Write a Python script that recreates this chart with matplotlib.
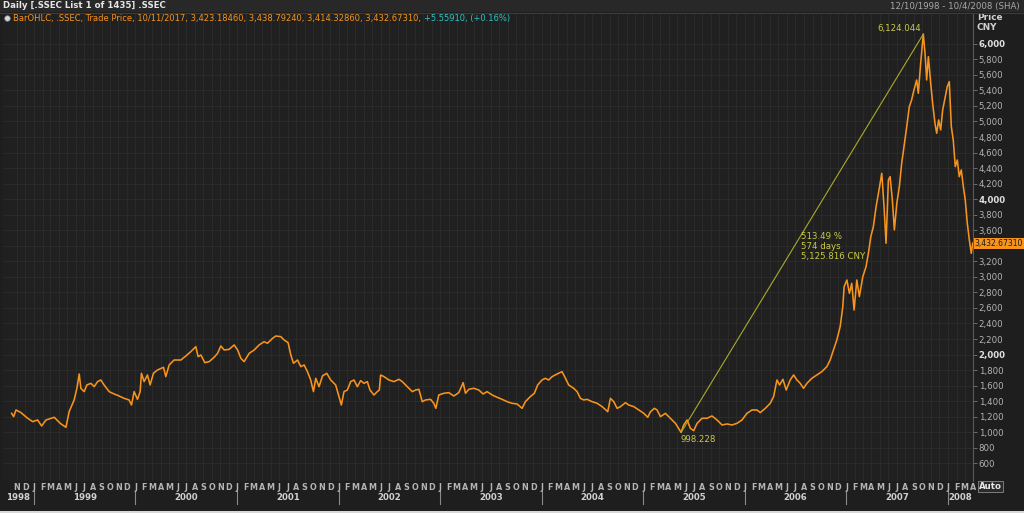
import matplotlib
matplotlib.use("Agg")
import matplotlib.pyplot as plt
from matplotlib.patches import Rectangle
from matplotlib.transforms import blended_transform_factory
import numpy as np
import pandas as pd

# ---------------- data ----------------
dec_years = [
    1998.780, 1998.800, 1998.823, 1998.872, 1998.938, 1998.987, 1999.036, 1999.076, 1999.118, 1999.200,
    1999.259, 1999.315, 1999.347, 1999.396, 1999.423, 1999.446, 1999.462, 1999.495, 1999.521, 1999.561,
    1999.593, 1999.627, 1999.659, 1999.691, 1999.741, 1999.790, 1999.839, 1999.888, 1999.937, 1999.961,
    1999.987, 2000.020, 2000.046, 2000.059, 2000.085, 2000.118, 2000.144, 2000.177, 2000.217, 2000.276,
    2000.298, 2000.331, 2000.380, 2000.446, 2000.495, 2000.544, 2000.593, 2000.616, 2000.643, 2000.682,
    2000.724, 2000.773, 2000.807, 2000.839, 2000.872, 2000.921, 2000.970, 2001.004, 2001.036, 2001.068,
    2001.118, 2001.167, 2001.216, 2001.265, 2001.298, 2001.348, 2001.380, 2001.429, 2001.462, 2001.501,
    2001.528, 2001.554, 2001.594, 2001.626, 2001.659, 2001.692, 2001.724, 2001.751, 2001.774, 2001.806,
    2001.840, 2001.882, 2001.921, 2001.970, 2002.003, 2002.026, 2002.052, 2002.085, 2002.118, 2002.150,
    2002.184, 2002.216, 2002.249, 2002.282, 2002.308, 2002.347, 2002.380, 2002.400, 2002.413, 2002.446,
    2002.495, 2002.544, 2002.593, 2002.626, 2002.676, 2002.725, 2002.757, 2002.790, 2002.823, 2002.856,
    2002.905, 2002.937, 2002.957, 2002.986, 2003.036, 2003.085, 2003.134, 2003.183, 2003.226, 2003.249,
    2003.282, 2003.331, 2003.380, 2003.423, 2003.462, 2003.512, 2003.561, 2003.610, 2003.659, 2003.708,
    2003.757, 2003.807, 2003.839, 2003.888, 2003.928, 2003.960, 2004.003, 2004.036, 2004.068, 2004.102,
    2004.151, 2004.200, 2004.233, 2004.265, 2004.314, 2004.348, 2004.380, 2004.413, 2004.446, 2004.495,
    2004.544, 2004.594, 2004.649, 2004.675, 2004.708, 2004.741, 2004.774, 2004.823, 2004.855, 2004.905,
    2004.954, 2005.003, 2005.042, 2005.069, 2005.108, 2005.134, 2005.167, 2005.216, 2005.265, 2005.315,
    2005.371, 2005.396, 2005.430, 2005.462, 2005.495, 2005.528, 2005.577, 2005.626, 2005.675, 2005.725,
    2005.774, 2005.823, 2005.872, 2005.921, 2005.970, 2006.020, 2006.069, 2006.118, 2006.151, 2006.200,
    2006.249, 2006.282, 2006.315, 2006.341, 2006.374, 2006.406, 2006.446, 2006.479, 2006.512, 2006.544,
    2006.577, 2006.610, 2006.659, 2006.708, 2006.757, 2006.807, 2006.839, 2006.872, 2006.905, 2006.938,
    2006.964, 2006.977, 2007.004, 2007.029, 2007.052, 2007.075, 2007.102, 2007.127, 2007.161, 2007.193,
    2007.216, 2007.240, 2007.265, 2007.292, 2007.315, 2007.348, 2007.370, 2007.390, 2007.413, 2007.430,
    2007.452, 2007.472, 2007.496, 2007.521, 2007.544, 2007.567, 2007.594, 2007.619, 2007.642, 2007.665,
    2007.692, 2007.708, 2007.731, 2007.757, 2007.774, 2007.790, 2007.807, 2007.830, 2007.849, 2007.872,
    2007.889, 2007.908, 2007.928, 2007.948, 2007.974, 2007.993, 2008.013, 2008.033, 2008.052, 2008.072,
    2008.092, 2008.111, 2008.131, 2008.151, 2008.170, 2008.190, 2008.210, 2008.229, 2008.243,
]
prices = [
    1244, 1201, 1287, 1253, 1180, 1137, 1158, 1081, 1158, 1193,
    1115, 1064, 1266, 1416, 1566, 1750, 1566, 1523, 1609, 1630,
    1587, 1652, 1673, 1609, 1523, 1493, 1467, 1437, 1416, 1351,
    1523, 1424, 1523, 1759, 1652, 1737, 1609, 1759, 1802, 1836,
    1716, 1866, 1930, 1930, 1982, 2038, 2102, 1973, 1995, 1896,
    1909, 1965, 2016, 2111, 2059, 2068, 2124, 2059, 1952, 1909,
    2016, 2059, 2124, 2166, 2145, 2209, 2239, 2231, 2188, 2154,
    1995, 1888, 1930, 1845, 1866, 1780, 1673, 1523, 1695, 1587,
    1725, 1759, 1673, 1609, 1459, 1351, 1523, 1544, 1652, 1673,
    1587, 1665, 1630, 1652, 1544, 1480, 1523, 1544, 1737, 1716,
    1673, 1652, 1682, 1652, 1587, 1523, 1544, 1553, 1394, 1416,
    1424, 1373, 1308, 1480, 1502, 1510, 1467, 1510, 1639, 1502,
    1553, 1566, 1544, 1493, 1523, 1480, 1450, 1424, 1394, 1373,
    1364, 1308, 1394, 1459, 1502, 1609, 1673, 1695, 1673, 1716,
    1750, 1780, 1695, 1609, 1566, 1523, 1437, 1416, 1424, 1394,
    1373, 1330, 1265, 1437, 1394, 1308, 1330, 1381, 1351, 1330,
    1287, 1244, 1193, 1265, 1308, 1287, 1201, 1244, 1180, 1115,
    998, 1094, 1158, 1051, 1021, 1115, 1180, 1180, 1210, 1158,
    1094, 1107, 1094, 1115, 1158, 1244, 1287, 1287, 1253, 1308,
    1373, 1459, 1673, 1609, 1682, 1544, 1673, 1738, 1673, 1630,
    1566, 1630, 1695, 1738, 1780, 1845, 1930, 2059, 2188, 2360,
    2617, 2874, 2960, 2788, 2917, 2574, 2960, 2746, 3003, 3132,
    3303, 3518, 3647, 3904, 4075, 4333, 3904, 3432, 4247, 4290,
    3990, 3604, 3947, 4161, 4461, 4676, 4934, 5191, 5277, 5405,
    5534, 5363, 5749, 6124, 5877, 5534, 5834, 5491, 5234, 4976,
    4848, 5019, 4891, 5148, 5320, 5448, 5513, 4934, 4762, 4419,
    4504, 4290, 4376, 4161, 3990, 3689, 3475, 3303, 3433,
]
low_year, low_price = 2005.371, 998.228
peak_year, peak_price = 2007.757, 6124.044
last_price = 3432.67310
trend_text = ["513.49 %", "574 days", "5,125.816 CNY"]
month_letters = ["J", "F", "M", "A", "M", "J", "J", "A", "S", "O", "N", "D"]
years = list(range(1998, 2009))
y_ticks = list(range(600, 6001, 200))

title_text = "Daily [.SSEC List 1 of 1435] .SSEC"
range_text = "12/10/1998 - 10/4/2008 (SHA)"
legend_text = "BarOHLC, .SSEC, Trade Price, 10/11/2017, 3,423.18460, 3,438.79240, 3,414.32860, 3,432.67310, "
change_text = "+5.55910, (+0.16%)"


def to_dt(t):
    y = int(np.floor(t))
    start = pd.Timestamp(y, 1, 1)
    end = pd.Timestamp(y + 1, 1, 1)
    return start + (end - start) * (t - y)


dates = [to_dt(t) for t in dec_years]

# ---------------- styling ----------------
BG = "#1e1e1e"
AX_BG = "#202020"
GRID = "#2c2c2c"
ORANGE = "#f7941d"
TREND = "#a9a92c"
ANN = "#c9c94a"
TXT = "#b4b4b4"
W, H = 1024, 513

plt.rcParams["font.family"] = ["DejaVu Sans"]
fig = plt.figure(figsize=(W / 100, H / 100), dpi=100, facecolor=BG)

# title bar
fig.patches.append(Rectangle((0, 1 - 12 / H), 1, 12 / H, transform=fig.transFigure,
                             facecolor="#282828", edgecolor="none", zorder=0))
fig.add_artist(plt.Line2D([0, 1], [1 - 12.5 / H] * 2, transform=fig.transFigure, color="#3c3c3c", lw=0.8))
fig.text(3 / W, 1 - 6 / H, title_text, color="#e6e6e6", fontsize=6.2, fontweight="bold", va="center", ha="left")
fig.text(1 - 4 / W, 1 - 6 / H, range_text, color="#a8a8a8", fontsize=6.2, va="center", ha="right")
# bottom light strip
fig.patches.append(Rectangle((0, 0), 1, 2 / H, transform=fig.transFigure, facecolor="#d8d8d8",
                             edgecolor="none", zorder=0))

left_px, right_px, top_px, bot_px = 3, 973, 13, 481
ax = fig.add_axes([left_px / W, 1 - bot_px / H, (right_px - left_px) / W, (bot_px - top_px) / H])
ax.set_facecolor(AX_BG)

x0 = to_dt(1998.695)
x1 = to_dt(2008.246)
ax.set_xlim(x0, x1)
ax.set_ylim(373, 6396)

# grid
month_starts = pd.date_range("1998-11-01", "2008-04-01", freq="MS")
for d in month_starts:
    ax.axvline(d, color=GRID, lw=0.6, zorder=0)
for v in y_ticks:
    ax.axhline(v, color=GRID, lw=0.6, zorder=0)

# price line
ax.plot(dates, prices, color=ORANGE, lw=1.15, zorder=3)

# trend line + annotations
low_dt, peak_dt = to_dt(low_year), to_dt(peak_year)
ax.plot([low_dt, peak_dt], [low_price, peak_price], color=TREND, lw=0.8, zorder=4)
ax.annotate(f"{low_price:,.3f}", xy=(low_dt, low_price), xytext=(-1, -3), textcoords="offset pixels",
            ha="left", va="top", color=ANN, fontsize=6.2, zorder=5)
ax.annotate(f"{peak_price:,.3f}", xy=(peak_dt, peak_price), xytext=(-2, 1), textcoords="offset pixels",
            ha="right", va="bottom", color=ANN, fontsize=6.2, zorder=5)
ax.text(to_dt(2006.554), 3578, "\n".join(trend_text), ha="left", va="top", color=ANN,
        fontsize=6.2, linespacing=1.15, zorder=5)

# spines
for s in ["top", "left", "bottom"]:
    ax.spines[s].set_visible(False)
ax.spines["right"].set_color("#5a5a5a")
ax.spines["right"].set_linewidth(0.8)

# y axis on right (the 3,400 label sits under the last-price tag, as in the reference)
ax.yaxis.tick_right()
ax.set_yticks(y_ticks)
ax.set_yticklabels([f"{v:,}" if v != 3400 else "" for v in y_ticks])
ax.tick_params(axis="y", colors="#7a7a7a", length=3, width=0.6, pad=1, labelsize=6.2, labelcolor=TXT)
for lab, v in zip(ax.get_yticklabels(), y_ticks):
    if v % 2000 == 0:
        lab.set_fontweight("bold")
        lab.set_color("#e0e0e0")
hpx = bot_px - top_px
ax.text(1.004, 1 - 5 / hpx, "Price", transform=ax.transAxes, color="#d0d0d0",
        fontsize=6.4, fontweight="bold", ha="left", va="center")
ax.text(1.004, 1 - 15 / hpx, "CNY", transform=ax.transAxes, color="#d0d0d0",
        fontsize=6.4, fontweight="bold", ha="left", va="center")

# last price tag
ax.annotate(f"{last_price:,.5f}", xy=(1, last_price), xycoords=("axes fraction", "data"),
            xytext=(1.5, 0), textcoords="offset pixels", ha="left", va="center", color="#1a1a1a",
            fontsize=5.5, annotation_clip=False, zorder=8,
            bbox=dict(boxstyle="square,pad=0.12", fc=ORANGE, ec="none"))

# Auto box
ax.text(1.006, -0.012, "Auto", transform=ax.transAxes, color="#e8e8e8", fontsize=6.2,
        fontweight="bold", ha="left", va="center",
        bbox=dict(boxstyle="square,pad=0.15", fc="#2a2a2a", ec="#8a8a8a", lw=0.6))

# x axis: month letters + years
ax.set_xticks([])
trans = blended_transform_factory(ax.transData, ax.transAxes)
for d in month_starts:
    ax.text(d, -6 / hpx, month_letters[d.month - 1], transform=trans, color=TXT, fontsize=5.8,
            fontweight="bold", ha="center", va="center", clip_on=False)
for y in years:
    ys = max(pd.Timestamp(y, 1, 1), x0)
    ye = min(pd.Timestamp(y + 1, 1, 1), x1)
    mid = ys + (ye - ys) / 2
    ax.text(mid, -16 / hpx, str(y), transform=trans, color="#d0d0d0", fontsize=6.2,
            fontweight="bold", ha="center", va="center", clip_on=False)
    if y > 1998:
        ax.plot([pd.Timestamp(y, 1, 1)] * 2, [-10 / hpx, -23 / hpx], transform=trans, color="#8a8a8a",
                lw=0.8, clip_on=False)

# legend header line
ax.plot([0.0045], [1 - 5 / hpx], transform=ax.transAxes, marker="o", ms=4, mfc="#d8d8d8",
        mec="#888888", mew=0.5, clip_on=False, zorder=6)
t1 = ax.text(10 / (right_px - left_px), 1 - 5 / hpx, legend_text, transform=ax.transAxes, color=ORANGE,
             fontsize=6.0, ha="left", va="center", zorder=6)
ax.annotate(change_text, xy=(1, 0), xycoords=t1, ha="left", va="bottom", color="#2fc4c4",
            fontsize=6.0, zorder=6)

fig.savefig("out.png", dpi=100, facecolor=BG)
